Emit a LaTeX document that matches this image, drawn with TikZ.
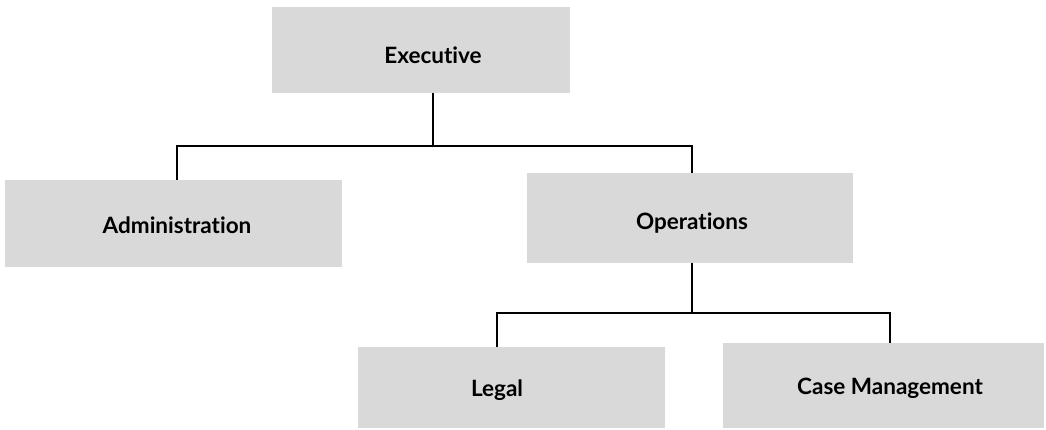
\documentclass[tikz,border=0pt]{standalone}
\usepackage{fontspec}
\setmainfont{Lato}[Ligatures={NoCommon,NoContextual}]
\begin{document}
\begin{tikzpicture}[x=1pt,y=-1pt,
  unitbox/.style={fill=black!15, draw=none, inner sep=0pt, outer sep=0pt},
  unitlabel/.style={font=\fontsize{22.5}{25}\selectfont\bfseries, inner sep=0pt, anchor=center},
  link/.style={draw=black, line width=1.2pt}]
\useasboundingbox (0,0) rectangle (1046,430);

% shaded unit boxes
\node[unitbox, minimum width=298pt, minimum height=86pt] (execbox) at (421,50) {};
\node[unitbox, minimum width=337pt, minimum height=87pt] (adminbox) at (173.5,223.5) {};
\node[unitbox, minimum width=326pt, minimum height=90pt] (opsbox) at (690,218) {};
\node[unitbox, minimum width=307pt, minimum height=81pt] (legalbox) at (511.5,387.5) {};
\node[unitbox, minimum width=321pt, minimum height=85pt] (casebox) at (883.5,385.5) {};

% unit names
\node[unitlabel] (exec)  at (433,55)  {Executive};
\node[unitlabel] (admin) at (177,225) {Administration};
\node[unitlabel] (ops)   at (692,223) {Operations};
\node[unitlabel] (legal) at (497,390) {Legal};
\node[unitlabel] (case)  at (890,388) {Case Management};

% reporting lines
\coordinate (busA) at (0,146);
\coordinate (busB) at (0,313);
\draw[link] (exec |- execbox.south) -- (exec |- busA);
\draw[link] (admin |- adminbox.north) -- (admin |- busA) -- (ops |- busA) -- (ops |- opsbox.north);
\draw[link] (ops |- opsbox.south) -- (ops |- busB);
\draw[link] (legal |- legalbox.north) -- (legal |- busB) -- (case |- busB) -- (case |- casebox.north);
\end{tikzpicture}
\end{document}
